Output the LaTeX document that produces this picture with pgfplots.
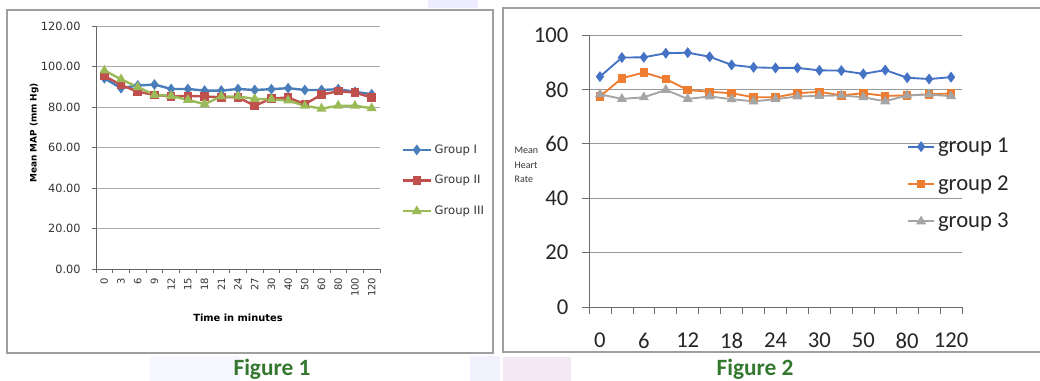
\documentclass[border=0pt]{standalone}
\usepackage{pgfplots}
\pgfplotsset{compat=1.18}
\usepackage{fontspec}
\setmainfont{DejaVu Sans}
\newfontfamily\carlito{Carlito}
\definecolor{xlblue}{RGB}{74,126,187}
\definecolor{xlred}{RGB}{192,80,77}
\definecolor{xlgreen}{RGB}{155,187,89}
\definecolor{oblue}{RGB}{68,114,196}
\definecolor{oorange}{RGB}{237,125,49}
\definecolor{ogray}{RGB}{165,165,165}
\definecolor{capgreen}{RGB}{52,120,48}
\begin{document}
\begin{tikzpicture}
\useasboundingbox (0,0) rectangle (780pt,285.75pt);
\begin{scope}[yshift=285.75pt, x=0.75pt, y=-0.75pt]
  % faint page watermark shapes
  \fill[blue!7] (428,0) rectangle (478,8);
  \fill[blue!5] (470,356) rectangle (500,381);
  \fill[blue!3] (150,356) rectangle (240,381);
  \fill[violet!9] (503,357) rectangle (571,381);
  % figure boxes
  \draw[gray!75, line width=0.8pt] (7,10) rectangle (493,353);
  \draw[gray!75, line width=0.8pt] (503,8) rectangle (1050,352);
  % captions
  \node[anchor=base, font=\carlito\bfseries\fontsize{17.5}{20}\selectfont, text=capgreen] at (272,375.5) {Figure 1};
  \node[anchor=base, font=\carlito\bfseries\fontsize{17.5}{20}\selectfont, text=capgreen] at (755,375.5) {Figure 2};
\end{scope}

% ---------- Figure 1 ----------
\begin{axis}[
  at={(72pt,84pt)}, anchor=south west, scale only axis,
  width=213pt, height=182.25pt,
  xmin=-0.5, xmax=16.5, ymin=0, ymax=120,
  axis x line=bottom, axis y line=left,
  axis line style={draw=gray!80!black, line width=0.6pt, -},
  xtick={-0.5,0.5,...,16.5}, x tick label as interval,
  xticklabels={0,3,6,9,12,15,18,21,24,27,30,40,50,60,80,100,120},
  x tick label style={rotate=90, anchor=east, font=\fontsize{7.5}{8}\selectfont, text=black!80},
  ytick={0,20,...,120}, ymajorgrids,
  grid style={gray!65, line width=0.6pt},
  tick align=outside, major tick length=3pt, tick style={gray!80!black, line width=0.5pt},
  y tick label style={/pgf/number format/fixed, /pgf/number format/fixed zerofill,
    /pgf/number format/precision=2, /pgf/number format/assume math mode=true,
    font=\fontsize{8.5}{9}\selectfont, xshift=-5pt, text=black!80},
  xlabel={Time in minutes},
  xlabel style={at={(axis description cs:0.5,-0.2)}, anchor=center, font=\bfseries\fontsize{7.4}{8}\selectfont},
  ylabel={Mean MAP (mm Hg)},
  ylabel style={at={(axis description cs:-0.218,0.56)}, anchor=center, font=\bfseries\fontsize{6.7}{7}\selectfont},
  legend style={at={(axis description cs:1,0.364)}, anchor=west, xshift=13pt, draw=none, fill=none,
    font=\fontsize{8.7}{9}\selectfont, row sep=11pt, text=black!80},
  legend cell align=left,
  legend image code/.code={\draw[mark repeat=2,mark phase=2] plot coordinates {(0pt,0pt) (10.5pt,0pt) (21pt,0pt)};},
]
\addplot[color=xlblue, line width=1.8pt, mark=diamond*, mark size=2.6pt, mark options={solid}] coordinates {
(0,94.2) (1,89.3) (2,90.6) (3,91.1) (4,88.9) (5,88.9) (6,88.1) (7,88.1) (8,88.9) (9,88.4) (10,88.8) (11,89.3) (12,88.4) (13,88.4) (14,88.8) (15,87.5) (16,86.3)};
\addplot[color=xlred, line width=1.8pt, mark=square*, mark size=2.3pt, mark options={solid}] coordinates {
(0,95.3) (1,90.9) (2,87.5) (3,86.0) (4,85.2) (5,85.5) (6,85.2) (7,84.8) (8,84.8) (9,80.6) (10,84.2) (11,84.7) (12,81.4) (13,86.1) (14,87.8) (15,87.1) (16,84.7)};
\addplot[color=xlgreen, line width=1.8pt, mark=triangle*, mark size=2.6pt, mark options={solid}] coordinates {
(0,98.0) (1,93.7) (2,89.8) (3,86.0) (4,85.5) (5,83.5) (6,81.4) (7,85.2) (8,85.2) (9,84.0) (10,83.8) (11,83.2) (12,80.6) (13,79.2) (14,80.6) (15,80.6) (16,79.4)};
\legend{Group I, Group II, Group III}
\end{axis}

% ---------- Figure 2 ----------
\begin{axis}[
  at={(441.75pt,55.5pt)}, anchor=south west, scale only axis,
  width=279.75pt, height=204pt,
  xmin=-0.5, xmax=16.5, ymin=0, ymax=100,
  axis x line=bottom, axis y line=left,
  axis line style={draw=gray!85!black, line width=0.6pt, -},
  xtick={-0.5,0.5,...,16.5}, x tick label as interval,
  xticklabels={0,,6,,12,,18,,24,,30,,50,,80,,120},
  x tick label style={font=\carlito\fontsize{17}{18}\selectfont, yshift=-11pt, text=black!85},
  ytick={0,20,...,100}, ymajorgrids,
  grid style={gray!80, line width=0.6pt},
  tick align=outside, major tick length=5pt, tick style={gray!85!black, line width=0.5pt},
  y tick label style={/pgf/number format/assume math mode=true,
    font=\carlito\fontsize{17}{18}\selectfont, xshift=-7pt, text=black!85},
  ylabel={Mean\\Heart\\Rate},
  every axis y label/.style={at={(axis description cs:-0.212,0.522)}, anchor=west, align=left,
    font=\carlito\fontsize{7.5}{11}\selectfont, text=black!80},
  legend style={at={(axis description cs:0.855,0.452)}, anchor=west, xshift=-4pt, draw=none, fill=none,
    font=\carlito\fontsize{17}{18}\selectfont, row sep=11.5pt, text=black!85},
  legend cell align=left,
  legend image code/.code={\draw[mark repeat=2,mark phase=2] plot coordinates {(0pt,0pt) (10pt,0pt) (20pt,0pt)};},
]
\addplot[color=oblue, line width=1.4pt, mark=diamond*, mark size=3pt, mark options={solid}] coordinates {
(0,84.7) (1,91.7) (2,91.8) (3,93.3) (4,93.5) (5,92.0) (6,89.0) (7,88.1) (8,87.9) (9,87.9) (10,87.0) (11,86.9) (12,85.7) (13,87.1) (14,84.3) (15,83.8) (16,84.5)};
\addplot[color=oorange, line width=1.4pt, mark=square*, mark size=2.5pt, mark options={solid}] coordinates {
(0,77.4) (1,84.1) (2,86.2) (3,83.8) (4,79.8) (5,79.1) (6,78.6) (7,77.1) (8,77.1) (9,78.6) (10,79.1) (11,77.8) (12,78.6) (13,77.6) (14,77.8) (15,78.2) (16,78.5)};
\addplot[color=ogray, line width=1.4pt, mark=triangle*, mark size=3pt, mark options={solid}] coordinates {
(0,78.2) (1,76.5) (2,77.1) (3,79.8) (4,76.5) (5,77.4) (6,76.4) (7,75.6) (8,76.4) (9,77.4) (10,77.6) (11,77.8) (12,77.1) (13,75.6) (14,77.8) (15,78.1) (16,77.5)};
\legend{group 1, group 2, group 3}
\end{axis}
\end{tikzpicture}
\end{document}
